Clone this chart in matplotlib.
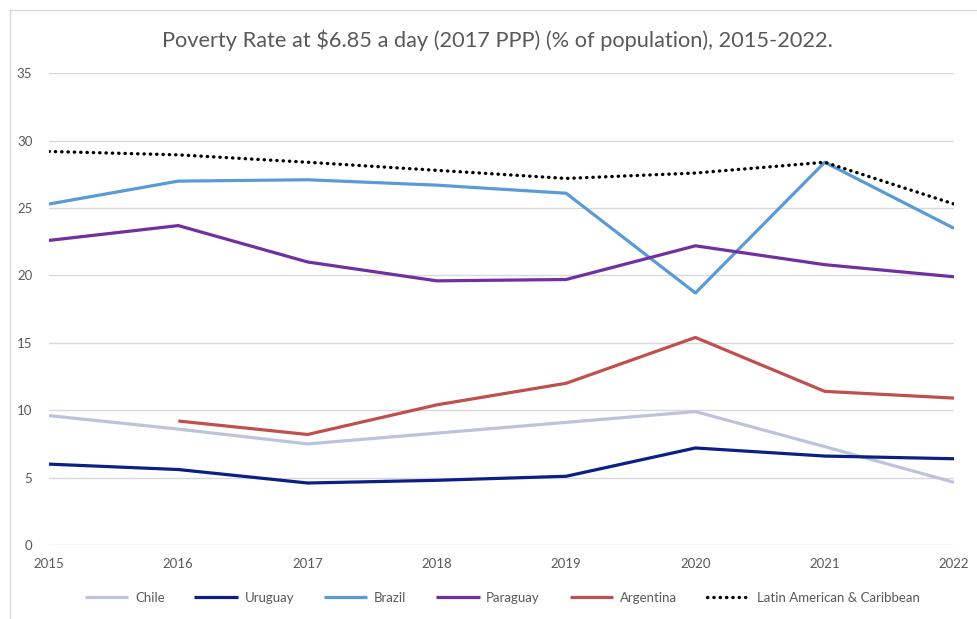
import matplotlib
matplotlib.use("Agg")
import matplotlib.pyplot as plt
from matplotlib.lines import Line2D
import numpy as np

plt.rcParams['font.family'] = ['Lato', 'DejaVu Sans']

years = [2015, 2016, 2017, 2018, 2019, 2020, 2021, 2022]
chile = [9.6, 8.6, 7.5, 8.3, 9.1, 9.9, 7.3, 4.65]
uruguay = [6.0, 5.6, 4.6, 4.8, 5.1, 7.2, 6.6, 6.4]
brazil = [25.3, 27.0, 27.1, 26.7, 26.1, 18.7, 28.4, 23.5]
paraguay = [22.6, 23.7, 21.0, 19.6, 19.7, 22.2, 20.8, 19.9]
argentina = [np.nan, 9.2, 8.2, 10.4, 12.0, 15.4, 11.4, 10.9]
lac = [29.2, 28.95, 28.4, 27.8, 27.2, 27.6, 28.4, 25.3]

series_names = ["Chile", "Uruguay", "Brazil", "Paraguay", "Argentina",
                "Latin American & Caribbean"]
title = "Poverty Rate at $6.85 a day (2017 PPP) (% of population), 2015-2022."

W, H = 977, 619
fig = plt.figure(figsize=(W / 100, H / 100), dpi=100)
ax = fig.add_axes([49 / W, 1 - 545 / H, (954 - 49) / W, (545 - 73.3) / H])

colors = ["#BCC4DD", "#0B1F86", "#5B9BD5", "#7030A0", "#C0504D", "#000000"]
data = [chile, uruguay, brazil, paraguay, argentina, lac]
for name, vals, c in zip(series_names, data, colors):
    if name.startswith("Latin"):
        ax.plot(years, vals, color=c, lw=2.4, linestyle=(0, (0.1, 1.8)),
                dash_capstyle='round', label=name, zorder=3)
    else:
        ax.plot(years, vals, color=c, lw=2.3, label=name,
                solid_capstyle='butt', zorder=2)

ax.set_xlim(2015, 2022)
ax.set_ylim(0, 35)
ax.set_yticks(range(0, 36, 5))
ax.set_xticks(years)
ax.grid(axis='y', color='#D9D9D9', lw=1)
ax.set_axisbelow(True)
for s in ax.spines.values():
    s.set_visible(False)
ax.tick_params(axis='both', length=0, colors='#595959', labelsize=9.5)
ax.tick_params(axis='y', pad=12)
ax.tick_params(axis='x', pad=9)

fig.text(0.509, 1 - 40 / H, title, ha='center', va='center',
         fontsize=15.7, color='#595959')

fig.legend(loc='center', bbox_to_anchor=(0.514, 1 - 598 / H), ncol=6,
           frameon=False, fontsize=9.5, handlelength=3.3, columnspacing=2.25,
           handletextpad=0.5, labelcolor='#595959')

# chart border (top and left visible)
fig.add_artist(Line2D([10 / W, 1.0], [1 - 10 / H, 1 - 10 / H],
                      transform=fig.transFigure, color='#D9D9D9', lw=1))
fig.add_artist(Line2D([10 / W, 10 / W], [0, 1 - 10 / H],
                      transform=fig.transFigure, color='#D9D9D9', lw=1))

fig.savefig("out.png", dpi=100)
